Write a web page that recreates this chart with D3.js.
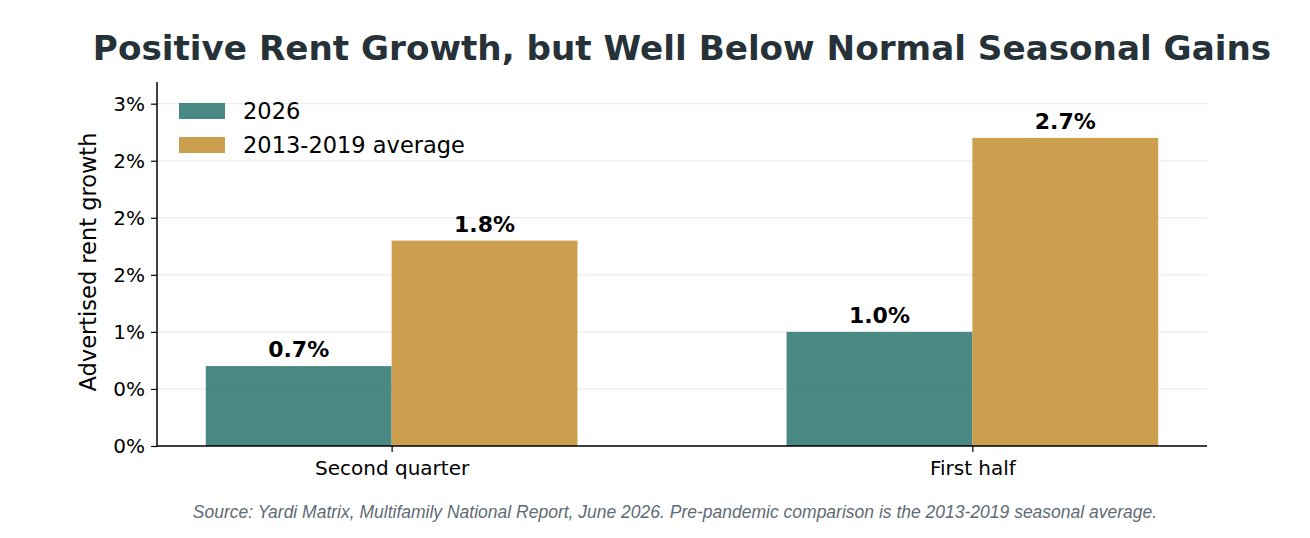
<!DOCTYPE html>
<html>
<head>
<meta charset="utf-8">
<script src="https://cdn.jsdelivr.net/npm/d3@7"></script>
<style>
  body { margin: 0; background: #fff; }
  svg { display: block; }
</style>
</head>
<body>
<div id="chart"></div>
<script>
// chart data
let categories = ['Second quarter', 'First half'];
let seriesNames = ['2026', '2013-2019 average'];
let values2026 = [0.7, 1.0];
let valuesAvg = [1.8, 2.7];
let yTicks = [0, 0.5, 1.0, 1.5, 2.0, 2.5, 3.0];
let yTickLabels = ['0%', '0%', '1%', '2%', '2%', '2%', '3%'];

let colors = ['#367b75', '#c5953b'];

let svgwidth = 1310;
let svgheight = 538;

let margin = {
    top: 82,
    right: 103,
    bottom: 92,
    left: 157
};

let width = svgwidth - margin.left - margin.right;
let height = svgheight - margin.top - margin.bottom;

let svg = d3.select('#chart')
    .append('svg')
    .attr('width', svgwidth)
    .attr('height', svgheight);

let chartgroup = svg.append('g')
    .attr('transform', `translate(${margin.left}, ${margin.top})`);

// x scale in category units, like matplotlib's -0.4..1.4 limits
let xscale = d3.scaleLinear()
    .domain([-0.404, 1.404])
    .range([0, width]);

let yscale = d3.scaleLinear()
    .domain([0, 3.19])
    .range([height, 0]);

let barwidth = 0.32;

// grid lines
chartgroup.append('g')
    .selectAll('line')
    .data(yTicks)
    .enter()
    .append('line')
    .attr('x1', 0)
    .attr('x2', width)
    .attr('y1', d => yscale(d))
    .attr('y2', d => yscale(d))
    .attr('stroke', '#ebebeb')
    .attr('stroke-width', 1.2);

// bars
let series = [values2026, valuesAvg];
series.forEach(function(vals, s) {
    let offset = s === 0 ? -barwidth : 0;
    chartgroup.append('g')
        .selectAll('rect')
        .data(vals)
        .enter()
        .append('rect')
        .attr('x', (d, i) => xscale(i + offset))
        .attr('y', d => yscale(d))
        .attr('width', xscale(barwidth) - xscale(0))
        .attr('height', d => yscale(0) - yscale(d))
        .attr('fill', colors[s])
        .attr('fill-opacity', 0.9);

    chartgroup.append('g')
        .selectAll('text')
        .data(vals)
        .enter()
        .append('text')
        .attr('x', (d, i) => xscale(i + offset + barwidth / 2))
        .attr('y', d => yscale(d) - 9)
        .attr('text-anchor', 'middle')
        .attr('font-family', 'DejaVu Sans')
        .attr('font-weight', 'bold')
        .attr('font-size', '22px')
        .attr('fill', '#000')
        .text(d => d.toFixed(1) + '%');
});

// axes
let leftAxis = d3.axisLeft(yscale)
    .tickValues(yTicks)
    .tickFormat((d, i) => yTickLabels[i])
    .tickSize(6)
    .tickPadding(6);

let bottomAxis = d3.axisBottom(xscale)
    .tickValues(d3.range(categories.length))
    .tickFormat(i => categories[i])
    .tickSize(6)
    .tickPadding(9);

let yaxis = chartgroup.append('g')
    .call(leftAxis);

let xaxis = chartgroup.append('g')
    .attr('transform', `translate(0, ${height})`)
    .call(bottomAxis);

[yaxis, xaxis].forEach(function(ax) {
    ax.select('.domain').attr('stroke', '#000').attr('stroke-width', 1.5);
    ax.selectAll('.tick line').attr('stroke', '#000').attr('stroke-width', 1.2);
    ax.selectAll('.tick text')
        .attr('font-family', 'DejaVu Sans')
        .attr('font-size', '20px')
        .attr('fill', '#000');
});
xaxis.select('.domain').attr('d', `M0,0H${width}`);
yaxis.select('.domain').attr('d', `M0,${height}V0`);

// y label
chartgroup.append('text')
    .attr('transform', `translate(${-margin.left + 96}, ${height / 2 - 2}) rotate(-90)`)
    .attr('text-anchor', 'middle')
    .attr('font-family', 'DejaVu Sans')
    .attr('font-size', '22.5px')
    .attr('fill', '#000')
    .text('Advertised rent growth');

// legend
let legend = chartgroup.append('g')
    .attr('transform', 'translate(22, 21)');

seriesNames.forEach(function(name, i) {
    let row = legend.append('g')
        .attr('transform', `translate(0, ${i * 34})`);
    row.append('rect')
        .attr('x', 0)
        .attr('y', 0)
        .attr('width', 46)
        .attr('height', 16)
        .attr('fill', colors[i])
        .attr('fill-opacity', 0.9);
    row.append('text')
        .attr('x', 64)
        .attr('y', 16)
        .attr('font-family', 'DejaVu Sans')
        .attr('font-size', '22.5px')
        .attr('fill', '#000')
        .text(name);
});

// title
svg.append('text')
    .attr('x', 682)
    .attr('y', 60)
    .attr('text-anchor', 'middle')
    .attr('font-family', 'DejaVu Sans')
    .attr('font-weight', 'bold')
    .attr('font-size', '34.2px')
    .attr('fill', '#263238')
    .text('Positive Rent Growth, but Well Below Normal Seasonal Gains');

// source note
svg.append('text')
    .attr('x', 675)
    .attr('y', 518)
    .attr('text-anchor', 'middle')
    .attr('font-family', 'Liberation Sans')
    .attr('font-style', 'italic')
    .attr('font-size', '17.5px')
    .attr('fill', '#5f6b75')
    .text('Source: Yardi Matrix, Multifamily National Report, June 2026. Pre-pandemic comparison is the 2013-2019 seasonal average.');
</script>
</body>
</html>
